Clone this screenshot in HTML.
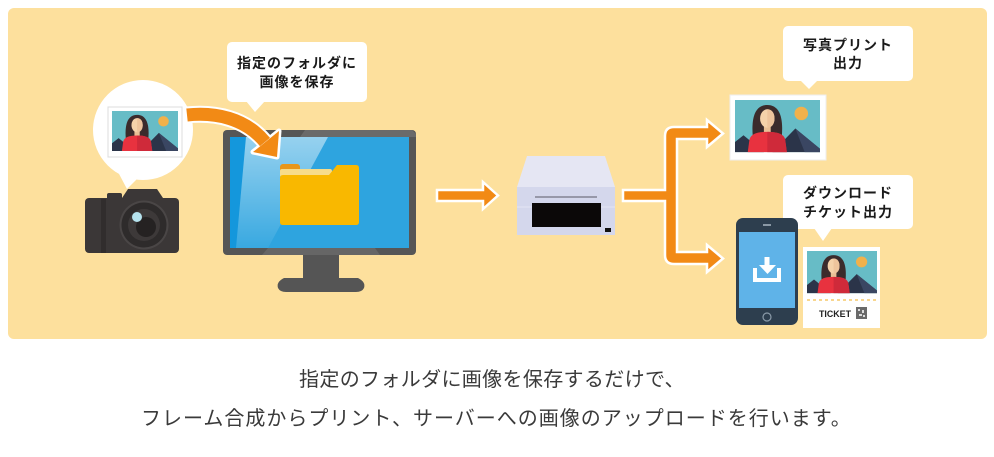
<!DOCTYPE html>
<html><head><meta charset="utf-8"><style>
html,body{margin:0;padding:0;background:#fff;}
body{width:994px;height:457px;overflow:hidden;position:relative;}
svg{position:absolute;left:0;top:0;}
</style></head><body>
<svg width="994" height="457" viewBox="0 0 994 457" xmlns="http://www.w3.org/2000/svg">
<defs>
  <g id="ph">
    <rect x="0" y="0" width="100" height="62" fill="#67bcc6"/>
    <circle cx="78" cy="16" r="8" fill="#f1b14b"/>
    <polygon points="0,62 0,50 10,42 34,62" fill="#2b3449"/>
    <polygon points="44,62 71,34 100,58 100,62" fill="#2b3449"/>
    <polygon points="71,34 100,58 100,62 82,62" fill="#3a4662"/>
    <path d="M21,44 C19,22 23,6 38,6 C53,6 57,22 55,44 Z" fill="#3b2b2c"/>
    <rect x="34" y="28" width="8" height="12" fill="#e9bf95"/>
    <ellipse cx="38" cy="22" rx="8.5" ry="11" fill="#f5d2aa"/>
    <path d="M38,11 C44,11 46.5,16 46.5,22 C46.5,29 43,33 38,33 Z" fill="#eec49c"/>
    <path d="M15,62 L17,47 C19,40 27,38 38,38 C49,38 57,40 59,47 L61,62 Z" fill="#e8323f"/>
    <path d="M38,38 C49,38 57,40 59,47 L61,62 L38,62 Z" fill="#cf2a3a"/>
  </g>
  <linearGradient id="refl" x1="0" y1="0" x2="0" y2="1">
    <stop offset="0" stop-color="#ffffff" stop-opacity="0.5"/>
    <stop offset="1" stop-color="#ffffff" stop-opacity="0.05"/>
  </linearGradient>
</defs>

<!-- panel -->
<rect x="8" y="8" width="979" height="331" rx="6" fill="#fde09d"/>

<!-- camera bubble -->
<circle cx="143" cy="130" r="50" fill="#ffffff"/>
<polygon points="118,172 140,176 127,189" fill="#ffffff"/>
<rect x="108" y="107" width="74" height="50" fill="#ffffff" stroke="#dcdcdc" stroke-width="1"/>
<g transform="translate(112,111) scale(0.66,0.645)"><use href="#ph"/></g>

<!-- camera -->
<polygon points="122,198 128,189 157,189 163,198" fill="#3b3737"/>
<rect x="107" y="193" width="15" height="8" rx="2" fill="#3b3737"/>
<rect x="85" y="198" width="94" height="55" rx="4" fill="#3b3737"/>
<rect x="101" y="199" width="5" height="54" fill="#312d2d"/>
<circle cx="144" cy="225" r="24.5" fill="#4a4646"/>
<circle cx="144" cy="225" r="22.5" fill="#2e2b2b"/>
<circle cx="144" cy="225" r="16" fill="#3d3939"/>
<circle cx="146" cy="227" r="10" fill="#252222"/>
<circle cx="137" cy="217" r="5" fill="#b6e3ee"/>

<!-- monitor -->
<rect x="303" y="253" width="36" height="26" fill="#555555"/>
<path d="M284,278 L358,278 Q366,282 364,288 Q362,292 356,292 L286,292 Q280,292 278,288 Q276,282 284,278 Z" fill="#555555"/>
<rect x="223" y="130" width="193" height="125" rx="4" fill="#565656"/>
<polygon points="305,130 412,130 416,134 416,137 300,137" fill="#6a6a6a"/>
<polygon points="268,248 375,248 380,255 262,255" fill="#666666"/>
<rect x="230" y="137" width="179" height="111" fill="#2ea4df"/>
<polygon points="230,137 246,137 236,248 230,248" fill="#1497dc"/>
<polygon points="246,137 328,137 268,248 236,248" fill="url(#refl)"/>
<!-- folder -->
<rect x="280" y="164" width="20" height="12" rx="3" fill="#e8961a"/>
<rect x="280" y="169" width="52" height="8" rx="2" fill="#f7dc8a"/>
<path d="M283,175 L329,175 L337,165 L356,165 Q359,165 359,168 L359,222 Q359,225 356,225 L283,225 Q280,225 280,222 L280,178 Q280,175 283,175 Z" fill="#f9b800"/>

<!-- curved arrow -->
<path d="M186,115 C215,112 245,118 265,142" fill="none" stroke="#ffffff" stroke-width="17"/>
<polygon points="253,152 279,131 277,157" fill="#ffffff" stroke="#ffffff" stroke-width="5" stroke-linejoin="round"/>
<path d="M187,115 C215,112 245,118 265,142" fill="none" stroke="#f28a15" stroke-width="13"/>
<polygon points="253,152 279,131 277,157" fill="#f28a15"/>

<!-- bubble 1 -->
<rect x="227" y="42" width="140" height="60" rx="5" fill="#ffffff"/>
<polygon points="246,101 265,101 255,112" fill="#ffffff"/>
<text x="297" y="68" text-anchor="middle" font-family="'Liberation Sans','Noto Sans CJK JP',sans-serif" font-weight="bold" font-size="14" letter-spacing="1" fill="#1a1a1a">指定のフォルダに</text>
<text x="297" y="87" text-anchor="middle" font-family="'Liberation Sans','Noto Sans CJK JP',sans-serif" font-weight="bold" font-size="14" letter-spacing="1" fill="#1a1a1a">画像を保存</text>

<!-- straight arrow -->
<polygon points="437,190 483,190 483,182 498,195.5 483,209 483,201 437,201" fill="#f28a15" stroke="#ffffff" stroke-width="2.5" stroke-linejoin="miter"/>

<!-- printer -->
<polygon points="527,156 605,156 615,187 517,187" fill="#e5e6f3"/>
<rect x="517" y="187" width="98" height="48" fill="#d4d7ec"/>
<line x1="517" y1="207" x2="615" y2="207" stroke="#e3e5f3" stroke-width="1"/>
<line x1="535" y1="197" x2="597" y2="197" stroke="#5a5a66" stroke-width="1"/>
<rect x="532" y="203" width="69" height="24" fill="#0b0808"/>
<rect x="605" y="228" width="6" height="4" fill="#111111"/>

<!-- branch arrow -->
<path d="M623,190 L665,190 L665,136 Q665,127 674,127 L707,127 L707,120 L723,133.5 L707,147 L707,139 L677,139 L677,252 L707,252 L707,245 L723,258.5 L707,272 L707,264 L674,264 Q665,264 665,255 L665,201 L623,201 Z" fill="#f28a15" stroke="#ffffff" stroke-width="2.5" stroke-linejoin="miter"/>

<!-- bubble 2 -->
<rect x="783" y="26" width="130" height="55" rx="5" fill="#ffffff"/>
<polygon points="800,80 818,80 809,89" fill="#ffffff"/>
<text x="848" y="50" text-anchor="middle" font-family="'Liberation Sans','Noto Sans CJK JP',sans-serif" font-weight="bold" font-size="14" letter-spacing="1" fill="#1a1a1a">写真プリント</text>
<text x="848" y="68" text-anchor="middle" font-family="'Liberation Sans','Noto Sans CJK JP',sans-serif" font-weight="bold" font-size="14" letter-spacing="1" fill="#1a1a1a">出力</text>

<!-- print -->
<rect x="730" y="95" width="96" height="65" fill="#ffffff" stroke="#eeeeee" stroke-width="1"/>
<g transform="translate(735,100) scale(0.85,0.84)"><use href="#ph"/></g>

<!-- bubble 3 -->
<rect x="783" y="175" width="130" height="54" rx="5" fill="#ffffff"/>
<polygon points="814,228 832,228 823,241" fill="#ffffff"/>
<text x="848" y="198" text-anchor="middle" font-family="'Liberation Sans','Noto Sans CJK JP',sans-serif" font-weight="bold" font-size="14" letter-spacing="1" fill="#1a1a1a">ダウンロード</text>
<text x="848" y="217" text-anchor="middle" font-family="'Liberation Sans','Noto Sans CJK JP',sans-serif" font-weight="bold" font-size="14" letter-spacing="1" fill="#1a1a1a">チケット出力</text>

<!-- phone -->
<rect x="736" y="218" width="62" height="107" rx="7" fill="#2d3e4e"/>
<rect x="739" y="232" width="56" height="76" fill="#5fb3e8"/>
<line x1="763" y1="225" x2="771" y2="225" stroke="#a9b6c2" stroke-width="1.5"/>
<circle cx="767" cy="317" r="4" fill="none" stroke="#8a9aa8" stroke-width="1.2"/>
<path d="M755,268 L755,280 L779,280 L779,268" fill="none" stroke="#ffffff" stroke-width="4"/>
<rect x="764.5" y="257" width="5" height="10" fill="#ffffff"/>
<polygon points="759,265 776,265 767.5,274" fill="#ffffff"/>

<!-- ticket -->
<rect x="803" y="247" width="77" height="81" fill="#ffffff"/>
<g transform="translate(807,251) scale(0.7,0.68)"><use href="#ph"/></g>
<line x1="807" y1="300" x2="877" y2="300" stroke="#f6c86a" stroke-width="1.5" stroke-dasharray="3,3"/>
<text x="819" y="317" font-family="'Liberation Sans',sans-serif" font-weight="bold" font-size="9" textLength="32" lengthAdjust="spacingAndGlyphs" fill="#222222">TICKET</text>
<rect x="856" y="307" width="11" height="12" fill="#6a6a6a"/>
<rect x="858" y="309" width="2" height="2" fill="#dddddd"/>
<rect x="862" y="310" width="2" height="3" fill="#dddddd"/>
<rect x="859" y="314" width="3" height="2" fill="#dddddd"/>
<rect x="863" y="315" width="2" height="2" fill="#dddddd"/>

<!-- caption -->
<text x="299" y="386" font-family="'Liberation Sans','Noto Sans CJK JP',sans-serif" font-size="20" letter-spacing="0.35" fill="#3a3a3a">指定のフォルダに画像を保存するだけで、</text>
<text x="141" y="425" font-family="'Liberation Sans','Noto Sans CJK JP',sans-serif" font-size="20" letter-spacing="1.0" fill="#3a3a3a">フレーム合成からプリント、サーバーへの画像のアップロードを行います。</text>
</svg>
</body></html>
